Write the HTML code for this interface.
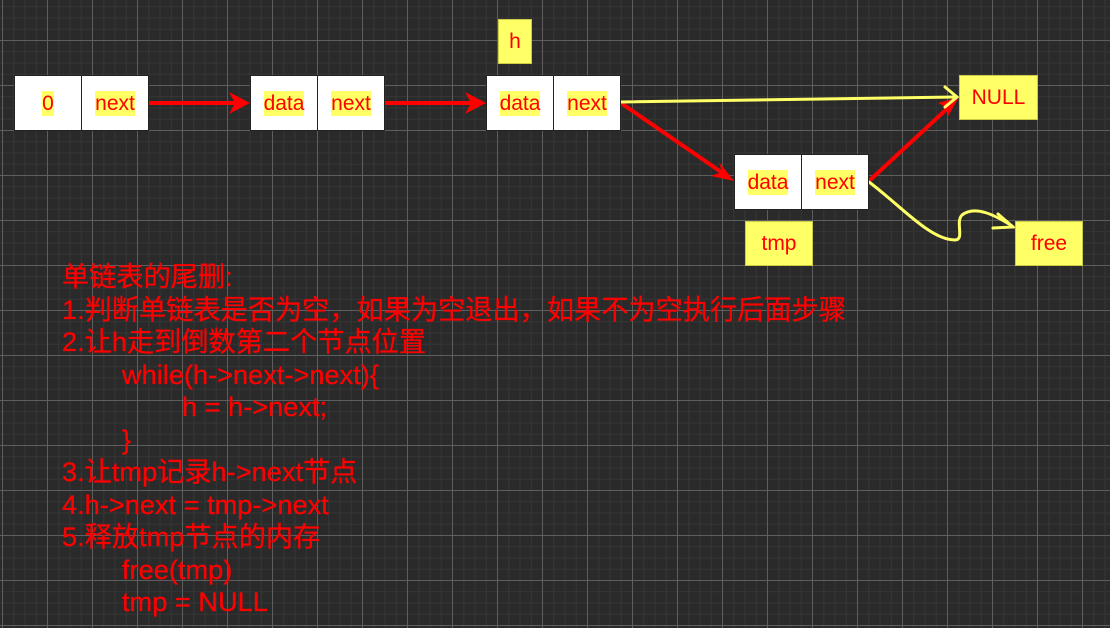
<!DOCTYPE html>
<html><head><meta charset="utf-8"><style>
body{margin:0;width:1110px;height:628px;overflow:hidden;background:#2a2a2a;font-family:"Liberation Sans","Noto Sans CJK SC",sans-serif;}
svg{position:absolute;left:0;top:0}
.c{position:absolute;background:#fff;border:1px solid #222;box-sizing:border-box;display:flex;align-items:center;justify-content:center;}
.c span{background:#ffff66;color:#f00;font-size:21px;line-height:25px}
.y{position:absolute;background:#ffff66;border:1px solid #cccc44;box-sizing:border-box;display:flex;align-items:center;justify-content:center;color:#f00;font-size:21px}
.t{position:absolute;color:#f00;font-size:27.2px;line-height:30px;white-space:pre;letter-spacing:0;-webkit-text-stroke:0.3px #f00}
</style></head><body>
<svg width="1110" height="628">
<defs>
<pattern id="mi" width="11.25" height="11.25" patternUnits="userSpaceOnUse" x="2" y="-5">
<path d="M0 0H11.25M0 0V11.25" stroke="#363636" stroke-width="2" fill="none"/></pattern>
<pattern id="ma" width="45" height="45" patternUnits="userSpaceOnUse" x="2" y="-5">
<path d="M0 0.5H45M0.5 0V45" stroke="#5e5e5e" stroke-width="1" fill="none"/></pattern>
</defs>
<rect width="1110" height="628" fill="url(#mi)"/>
<rect width="1110" height="628" fill="url(#ma)"/>
<g stroke="#f00" stroke-width="4" fill="none">
<line x1="149" y1="103" x2="240" y2="103"/>
<line x1="385" y1="103" x2="476" y2="103"/>
<line x1="621" y1="103" x2="724" y2="174"/>
<line x1="869" y1="181" x2="950" y2="106"/>
</g>
<g fill="#f00">
<polygon points="250,103 229,92 235,103 229,114"/>
<polygon points="486,103 465,92 471,103 465,114"/>
<polygon points="734,181 711,176 722,172 719,162"/>
<polygon points="959,97 947,118 948,108 938,103"/>
</g>
<g stroke="#ffff66" stroke-width="3" fill="none" stroke-linecap="round">
<line x1="621" y1="102" x2="955" y2="97"/>
<path d="M945 87 L957 97 L945 107"/>
<path d="M869 182 C900 205 930 240 955 240 C965 240 955 222 962 215 C975 205 995 215 1012 226"/>
<path d="M998 214 L1013 227 L993 228"/>
</g>
</svg>
<div class="c" style="left:14px;top:75px;width:68px;height:56px"><span>0</span></div>
<div class="c" style="left:81px;top:75px;width:68px;height:56px"><span>next</span></div>
<div class="c" style="left:250px;top:75px;width:68px;height:56px"><span>data</span></div>
<div class="c" style="left:317px;top:75px;width:68px;height:56px"><span>next</span></div>
<div class="c" style="left:486px;top:75px;width:68px;height:56px"><span>data</span></div>
<div class="c" style="left:553px;top:75px;width:68px;height:56px"><span>next</span></div>
<div class="c" style="left:734px;top:154px;width:68px;height:56px"><span>data</span></div>
<div class="c" style="left:801px;top:154px;width:68px;height:56px"><span>next</span></div>
<div class="y" style="left:498px;top:19px;width:34px;height:45px">h</div>
<div class="y" style="left:959px;top:75px;width:79px;height:45px">NULL</div>
<div class="y" style="left:745px;top:221px;width:68px;height:45px">tmp</div>
<div class="y" style="left:1015px;top:221px;width:68px;height:45px">free</div>
<div class="t" style="left:62px;top:262px">单链表的尾删:</div>
<div class="t" style="left:62px;top:295px">1.判断单链表是否为空，如果为空退出，如果不为空执行后面步骤</div>
<div class="t" style="left:62px;top:327px">2.让h走到倒数第二个节点位置</div>
<div class="t" style="left:122px;top:360px">while(h-&gt;next-&gt;next){</div>
<div class="t" style="left:182px;top:392px">h = h-&gt;next;</div>
<div class="t" style="left:122px;top:425px">}</div>
<div class="t" style="left:62px;top:457px">3.让tmp记录h-&gt;next节点</div>
<div class="t" style="left:62px;top:490px">4.h-&gt;next = tmp-&gt;next</div>
<div class="t" style="left:62px;top:522px">5.释放tmp节点的内存</div>
<div class="t" style="left:122px;top:555px">free(tmp)</div>
<div class="t" style="left:122px;top:587px">tmp = NULL</div>
</body></html>
